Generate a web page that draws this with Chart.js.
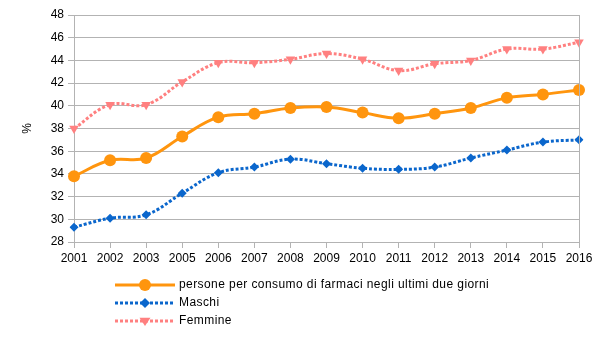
<!DOCTYPE html>
<html>
<head>
  <meta charset="utf-8">
  <title>Farmaci</title>
  <style>
    body { margin: 0; background: #fff; }
    #wrap { width: 605px; height: 340px; }
  </style>
</head>
<body>
  <div id="wrap"><canvas id="chart" width="605" height="340"></canvas></div>

  <script src="https://cdn.jsdelivr.net/npm/chart.js"></script>
  <script>
    const years = ['2001', '2002', '2003', '2005', '2006', '2007', '2008', '2009', '2010', '2011', '2012', '2013', '2014', '2015', '2016'];
    const totale = [33.8, 35.2, 35.4, 37.3, 39.0, 39.3, 39.8, 39.9, 39.4, 38.9, 39.3, 39.8, 40.7, 41.0, 41.4];
    const maschi = [29.3, 30.1, 30.4, 32.3, 34.1, 34.6, 35.3, 34.9, 34.5, 34.4, 34.6, 35.4, 36.1, 36.8, 37.0];
    const femmine = [38.0, 40.1, 40.1, 42.1, 43.8, 43.8, 44.1, 44.6, 44.1, 43.1, 43.7, 44.0, 45.0, 45.0, 45.6];
    const seriesNames = ['persone per consumo di farmaci negli ultimi due giorni', 'Maschi', 'Femmine'];

    const ORANGE = '#ff950e', BLUE = '#0a66cc', PINK = '#ff8080';
    const GRID = '#b3b3b3';
    const FONT = '"Liberation Sans", Arial, sans-serif';
    Chart.defaults.font.family = FONT;
    Chart.defaults.font.size = 12;
    Chart.defaults.color = '#000';

    function marker(ctx, style, x, y, r, color) {
      ctx.save();
      ctx.fillStyle = color;
      ctx.beginPath();
      if (style === 'circle') {
        ctx.arc(x, y, r, 0, Math.PI * 2);
      } else if (style === 'rectRot') {
        ctx.moveTo(x, y - r); ctx.lineTo(x + r, y); ctx.lineTo(x, y + r); ctx.lineTo(x - r, y);
      } else {
        ctx.moveTo(x - r, y - r * 0.6); ctx.lineTo(x + r, y - r * 0.6); ctx.lineTo(x, y + r * 0.9);
      }
      ctx.closePath();
      ctx.fill();
      ctx.restore();
    }

    // bordo destro dell'area e legenda verticale
    const extras = {
      id: 'extras',
      afterDraw(chart) {
        const { ctx, chartArea } = chart;
        ctx.save();
        ctx.strokeStyle = GRID;
        ctx.lineWidth = 1;
        ctx.beginPath();
        ctx.moveTo(Math.round(chartArea.right) + 0.5, chartArea.top);
        ctx.lineTo(Math.round(chartArea.right) + 0.5, chartArea.bottom + 5);
        ctx.stroke();

        const rows = [285, 303, 321];
        chart.data.datasets.forEach((ds, i) => {
          const y = rows[i];
          ctx.strokeStyle = ds.borderColor;
          ctx.lineWidth = ds.borderWidth;
          ctx.setLineDash(ds.borderDash || []);
          ctx.beginPath();
          ctx.moveTo(115, y);
          ctx.lineTo(175, y);
          ctx.stroke();
          ctx.setLineDash([]);
          marker(ctx, ds.pointStyle, 145, y, ds.legendR, ds.borderColor);
          ctx.fillStyle = '#000';
          ctx.font = '12px ' + FONT;
          ctx.letterSpacing = '0.42px';
          ctx.textBaseline = 'middle';
          ctx.fillText(ds.label, 179, y);
          ctx.letterSpacing = '0px';
        });
        ctx.restore();
      }
    };

    new Chart(document.getElementById('chart'), {
      type: 'line',
      data: {
        labels: years,
        datasets: [
          {
            label: seriesNames[0], data: totale,
            borderColor: ORANGE, backgroundColor: ORANGE, borderWidth: 3,
            pointStyle: 'circle', pointRadius: 6, pointBorderWidth: 0, legendR: 6,
            tension: 0.4
          },
          {
            label: seriesNames[1], data: maschi,
            borderColor: BLUE, backgroundColor: BLUE, borderWidth: 3, borderDash: [3, 2],
            pointStyle: 'rectRot', pointRadius: 4.5, pointBorderWidth: 0, legendR: 5,
            tension: 0.4
          },
          {
            label: seriesNames[2], data: femmine,
            borderColor: PINK, backgroundColor: PINK, borderWidth: 3, borderDash: [3, 2],
            pointStyle: 'triangle', rotation: 180, pointRadius: 5.5, pointBorderWidth: 0, legendR: 5.5,
            tension: 0.4
          }
        ]
      },
      options: {
        responsive: false,
        animation: false,
        events: [],
        layout: { padding: { left: 0, right: 26, top: 15, bottom: 0 } },
        plugins: { legend: { display: false }, tooltip: { enabled: false } },
        scales: {
          x: {
            offset: false,
            grid: { drawOnChartArea: false, color: GRID, tickLength: 6 },
            border: { color: GRID },
            ticks: { padding: 3, maxRotation: 0, autoSkip: false },
            afterFit(scale) { scale.height = 98; }
          },
          y: {
            min: 28, max: 48,
            grid: { color: GRID, tickLength: 6 },
            border: { color: GRID },
            ticks: { stepSize: 2, padding: 4 },
            title: { display: true, text: '%', padding: { top: 20, bottom: 0 } },
            afterFit(scale) { scale.width = 74; }
          }
        }
      },
      plugins: [extras]
    });
  </script>
</body>
</html>
